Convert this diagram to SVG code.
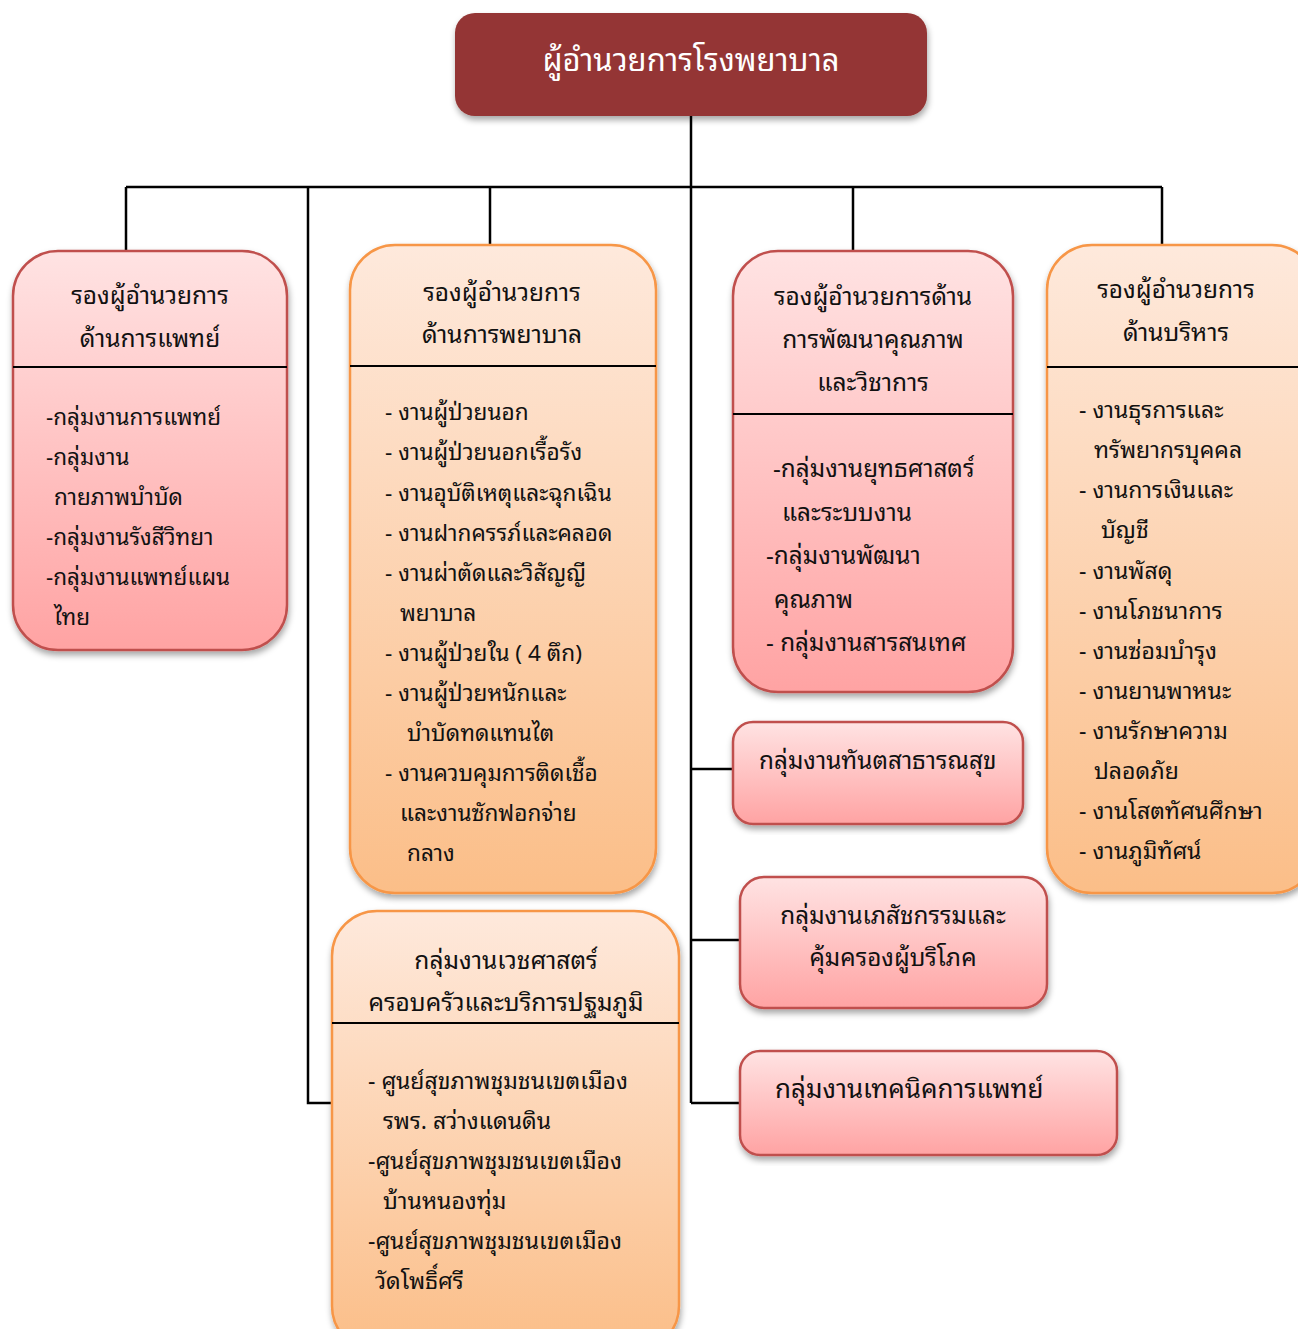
<svg xmlns="http://www.w3.org/2000/svg" width="1298" height="1329" viewBox="0 0 1298 1329">
<style>
text{font-family:"Noto Sans Thai Looped","Noto Serif Thai","Noto Sans Thai","Noto Sans","DejaVu Sans",sans-serif;font-size:23px;fill:#111}
.c{text-anchor:middle}
.top{fill:#fff;font-size:31px}
.h{font-size:24.5px}
.b1{font-size:22.5px}
.b2{font-size:22.6px}
.b3{font-size:24.3px}
.g{font-size:24.3px}
.g8{font-size:26px}
.pink{fill:url(#gp);stroke:#c0504d;stroke-width:2.5}
.orng{fill:url(#go);stroke:#f79646;stroke-width:2.5}
.div{stroke:#000;stroke-width:2}
.ln{stroke:#000;stroke-width:2.5;fill:none}
</style>
<defs>
<linearGradient id="gp" x1="0" y1="0" x2="0" y2="1"><stop offset="0" stop-color="#ffe3e3"/><stop offset="1" stop-color="#ffa3a3"/></linearGradient>
<linearGradient id="go" x1="0" y1="0" x2="0" y2="1"><stop offset="0" stop-color="#fee9dc"/><stop offset="1" stop-color="#fbbe88"/></linearGradient>
<filter id="sh" x="-10%" y="-10%" width="120%" height="120%"><feDropShadow dx="1" dy="4" stdDeviation="3" flood-color="#000" flood-opacity="0.35"/></filter>
</defs>
<g id="connectors">
<path class="ln" d="M691 115V1103M126 187H1162M126 187V251M490 187V245M853 187V251M1162 187V245M308 187V1103H332M691 769H733M691 940H740M691 1103H740"/>
</g>
<g id="director">
<rect x="455" y="13" width="472" height="103" rx="20" fill="#943634" filter="url(#sh)"/>
<text class="c top" x="691" y="71">ผู้อำนวยการโรงพยาบาล</text>
</g>
<g id="medical">
<rect class="pink" x="13" y="251" width="274" height="399" rx="45" filter="url(#sh)"/>
<line class="div" x1="13" y1="367" x2="287" y2="367"/>
<text class="c h" x="150" y="304">รองผู้อำนวยการ</text>
<text class="c h" x="150" y="347">ด้านการแพทย์</text>
<text class="b1" x="46" y="425">-กลุ่มงานการแพทย์</text>
<text class="b1" x="46" y="465">-กลุ่มงาน</text>
<text class="b1" x="54" y="505">กายภาพบำบัด</text>
<text class="b1" x="46" y="545">-กลุ่มงานรังสีวิทยา</text>
<text class="b1" x="46" y="585">-กลุ่มงานแพทย์แผน</text>
<text class="b1" x="54" y="625">ไทย</text>
</g>
<g id="nursing">
<rect class="orng" x="350" y="245" width="306" height="648" rx="45" filter="url(#sh)"/>
<line class="div" x1="350" y1="366" x2="656" y2="366"/>
<text class="c h" x="502" y="301">รองผู้อำนวยการ</text>
<text class="c h" x="502" y="343">ด้านการพยาบาล</text>
<text class="b2" x="385" y="420">- งานผู้ป่วยนอก</text>
<text class="b2" x="385" y="460">- งานผู้ป่วยนอกเรื้อรัง</text>
<text class="b2" x="385" y="501">- งานอุบัติเหตุและฉุกเฉิน</text>
<text class="b2" x="385" y="541">- งานฝากครรภ์และคลอด</text>
<text class="b2" x="385" y="581">- งานผ่าตัดและวิสัญญี</text>
<text class="b2" x="400" y="621">พยาบาล</text>
<text class="b2" x="385" y="661">- งานผู้ป่วยใน ( 4 ตึก)</text>
<text class="b2" x="385" y="701">- งานผู้ป่วยหนักและ</text>
<text class="b2" x="407" y="741">บำบัดทดแทนไต</text>
<text class="b2" x="385" y="781">- งานควบคุมการติดเชื้อ</text>
<text class="b2" x="400" y="821">และงานซักฟอกจ่าย</text>
<text class="b2" x="407" y="861">กลาง</text>
</g>
<g id="quality">
<rect class="pink" x="733" y="251" width="280" height="441" rx="45" filter="url(#sh)"/>
<line class="div" x1="733" y1="414" x2="1013" y2="414"/>
<text class="c h" x="873" y="305">รองผู้อำนวยการด้าน</text>
<text class="c h" x="873" y="348">การพัฒนาคุณภาพ</text>
<text class="c h" x="873" y="391">และวิชาการ</text>
<text class="b3" x="773" y="477">-กลุ่มงานยุทธศาสตร์</text>
<text class="b3" x="782" y="521">และระบบงาน</text>
<text class="b3" x="766" y="564">-กลุ่มงานพัฒนา</text>
<text class="b3" x="774" y="608">คุณภาพ</text>
<text class="b3" x="766" y="651">- กลุ่มงานสารสนเทศ</text>
</g>
<g id="admin">
<rect class="orng" x="1047" y="245" width="270" height="648" rx="45" filter="url(#sh)"/>
<line class="div" x1="1047" y1="367" x2="1298" y2="367"/>
<text class="c h" x="1176" y="298">รองผู้อำนวยการ</text>
<text class="c h" x="1176" y="341">ด้านบริหาร</text>
<text x="1079" y="418">- งานธุรการและ</text>
<text x="1094" y="458">ทรัพยากรบุคคล</text>
<text x="1079" y="498">- งานการเงินและ</text>
<text x="1101" y="538">บัญชี</text>
<text x="1079" y="579">- งานพัสดุ</text>
<text x="1079" y="619">- งานโภชนาการ</text>
<text x="1079" y="659">- งานซ่อมบำรุง</text>
<text x="1079" y="699">- งานยานพาหนะ</text>
<text x="1079" y="739">- งานรักษาความ</text>
<text x="1094" y="779">ปลอดภัย</text>
<text x="1079" y="819">- งานโสตทัศนศึกษา</text>
<text x="1079" y="859">- งานภูมิทัศน์</text>
</g>
<g id="family">
<rect class="orng" x="332" y="911" width="347" height="440" rx="45" filter="url(#sh)"/>
<line class="div" x1="332" y1="1023" x2="679" y2="1023"/>
<text class="c h" x="506" y="969">กลุ่มงานเวชศาสตร์</text>
<text class="c h" x="506" y="1011">ครอบครัวและบริการปฐมภูมิ</text>
<text x="368" y="1089">- ศูนย์สุขภาพชุมชนเขตเมือง</text>
<text x="383" y="1129">รพร. สว่างแดนดิน</text>
<text x="368" y="1169">-ศูนย์สุขภาพชุมชนเขตเมือง</text>
<text x="383" y="1209">บ้านหนองทุ่ม</text>
<text x="368" y="1249">-ศูนย์สุขภาพชุมชนเขตเมือง</text>
<text x="375" y="1289">วัดโพธิ์ศรี</text>
</g>
<g id="dental">
<rect class="pink" x="733" y="722" width="290" height="102" rx="20" filter="url(#sh)"/>
<text class="g" x="759" y="769">กลุ่มงานทันตสาธารณสุข</text>
</g>
<g id="pharmacy">
<rect class="pink" x="740" y="877" width="307" height="131" rx="24" filter="url(#sh)"/>
<text class="c g" x="893" y="924">กลุ่มงานเภสัชกรรมและ</text>
<text class="c g" x="893" y="966">คุ้มครองผู้บริโภค</text>
</g>
<g id="medtech">
<rect class="pink" x="740" y="1051" width="377" height="104" rx="20" filter="url(#sh)"/>
<text class="g8" x="775" y="1098">กลุ่มงานเทคนิคการแพทย์</text>
</g>
</svg>
